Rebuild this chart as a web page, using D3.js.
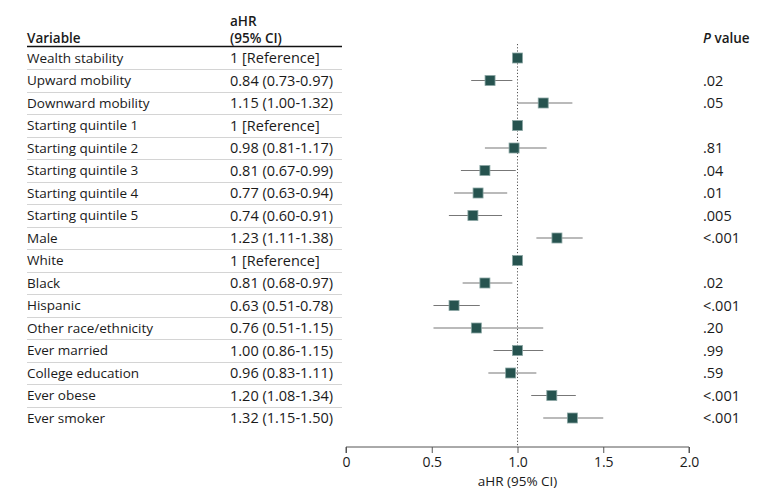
<!DOCTYPE html>
<html><head><meta charset="utf-8">
<script src="https://cdn.jsdelivr.net/npm/d3@7/dist/d3.min.js"></script>
<style>
body{margin:0;background:#fff;}
text{font-family:"Open Sans","Noto Sans",sans-serif;fill:#1a1a1a;}
</style></head>
<body><svg id="c" width="780" height="499"></svg>
<script>
const variables = ["Wealth stability","Upward mobility","Downward mobility","Starting quintile 1","Starting quintile 2","Starting quintile 3","Starting quintile 4","Starting quintile 5","Male","White","Black","Hispanic","Other race/ethnicity","Ever married","College education","Ever obese","Ever smoker"];
const ahr   = [1,0.84,1.15,1,0.98,0.81,0.77,0.74,1.23,1,0.81,0.63,0.76,1.00,0.96,1.20,1.32];
const lower = [null,0.73,1.00,null,0.81,0.67,0.63,0.60,1.11,null,0.68,0.51,0.51,0.86,0.83,1.08,1.15];
const upper = [null,0.97,1.32,null,1.17,0.99,0.94,0.91,1.38,null,0.97,0.78,1.15,1.15,1.11,1.34,1.50];
const ciLabels = ["1 [Reference]","0.84 (0.73-0.97)","1.15 (1.00-1.32)","1 [Reference]","0.98 (0.81-1.17)","0.81 (0.67-0.99)","0.77 (0.63-0.94)","0.74 (0.60-0.91)","1.23 (1.11-1.38)","1 [Reference]","0.81 (0.68-0.97)","0.63 (0.51-0.78)","0.76 (0.51-1.15)","1.00 (0.86-1.15)","0.96 (0.83-1.11)","1.20 (1.08-1.34)","1.32 (1.15-1.50)"];
const pValues = ["",".02",".05","",".81",".04",".01",".005","<.001","",".02","<.001",".20",".99",".59","<.001","<.001"];
const xTicks = [0,0.5,1,1.5,2];
const xTickLabels = ["0","0.5","1.0","1.5","2.0"];

const svg = d3.select("#c");
const x = d3.scaleLinear().domain([0,2]).range([346,689]);
const y = d3.scalePoint().domain(variables).range([58,418]);
const step = y.step();
const fsName = 13.5, fsNum = 14.5;

// header
const hdr = svg.append("g").attr("font-size",13.5).attr("font-weight",600);
hdr.append("text").attr("x",27).attr("y",43).text("Variable");
hdr.append("text").attr("x",230).attr("y",26).text("aHR");
hdr.append("text").attr("x",230).attr("y",43).text("(95% CI)");
const pv = hdr.append("text").attr("x",703).attr("y",43);
pv.append("tspan").attr("font-style","italic").text("P");
pv.append("tspan").text(" value");

svg.append("line").attr("x1",27).attr("x2",342).attr("y1",46.5).attr("y2",46.5)
  .attr("stroke","#111").attr("stroke-width",1.5);

// separators
svg.append("g").selectAll("line").data(variables.slice(1)).join("line")
  .attr("x1",27).attr("x2",342)
  .attr("y1",d=>Math.round(y(d)-step/2)+0.5).attr("y2",d=>Math.round(y(d)-step/2)+0.5)
  .attr("stroke","#d4d4d4").attr("stroke-width",1);

// table text
const rows = svg.append("g");
rows.selectAll("text.v").data(variables).join("text").attr("class","v").attr("font-size",fsName)
  .attr("x",27).attr("y",d=>y(d)).attr("dy","0.36em").text(d=>d);
rows.selectAll("text.c").data(variables).join("text").attr("class","c").attr("font-size",fsNum)
  .attr("x",230).attr("y",d=>y(d)).attr("dy","0.36em").text((d,i)=>ciLabels[i]);
rows.selectAll("text.p").data(variables).join("text").attr("class","p").attr("font-size",fsNum)
  .attr("x",703).attr("y",d=>y(d)).attr("dy","0.36em").text((d,i)=>pValues[i]);

// reference line
svg.append("line").attr("x1",x(1)).attr("x2",x(1)).attr("y1",44).attr("y2",447)
  .attr("stroke","#555").attr("stroke-width",1).attr("stroke-dasharray","1.2,2");

// CI lines
const idx = d3.range(variables.length).filter(i=>lower[i]!==null);
svg.append("g").selectAll("line").data(idx).join("line")
  .attr("x1",i=>x(lower[i])).attr("x2",i=>x(upper[i]))
  .attr("y1",i=>y(variables[i])).attr("y2",i=>y(variables[i]))
  .attr("stroke","#777").attr("stroke-width",1.2);

// markers
const ms = 10;
svg.append("g").selectAll("rect").data(d3.range(variables.length)).join("rect")
  .attr("x",i=>x(ahr[i])-ms/2).attr("y",i=>y(variables[i])-ms/2)
  .attr("width",ms).attr("height",ms)
  .attr("fill","#26534f").attr("stroke","#8aa6a3").attr("stroke-width",0.8);

// axis
const axis = d3.axisBottom(x).tickValues(xTicks).tickFormat((d,i)=>xTickLabels[i]).tickSize(6).tickPadding(4);
const ag = svg.append("g").attr("transform","translate(0,447)").call(axis);
ag.select(".domain").attr("stroke","#555").attr("d",`M${x(0)},6V0H${x(2)}V6`);
ag.selectAll(".tick line").attr("stroke","#555");
ag.selectAll(".tick text").attr("font-size",14).attr("font-family","'Open Sans',sans-serif").attr("fill","#1a1a1a");
svg.append("text").attr("x",x(1)).attr("y",486).attr("text-anchor","middle").attr("font-size",13.5).text("aHR (95% CI)");
</script></body></html>
